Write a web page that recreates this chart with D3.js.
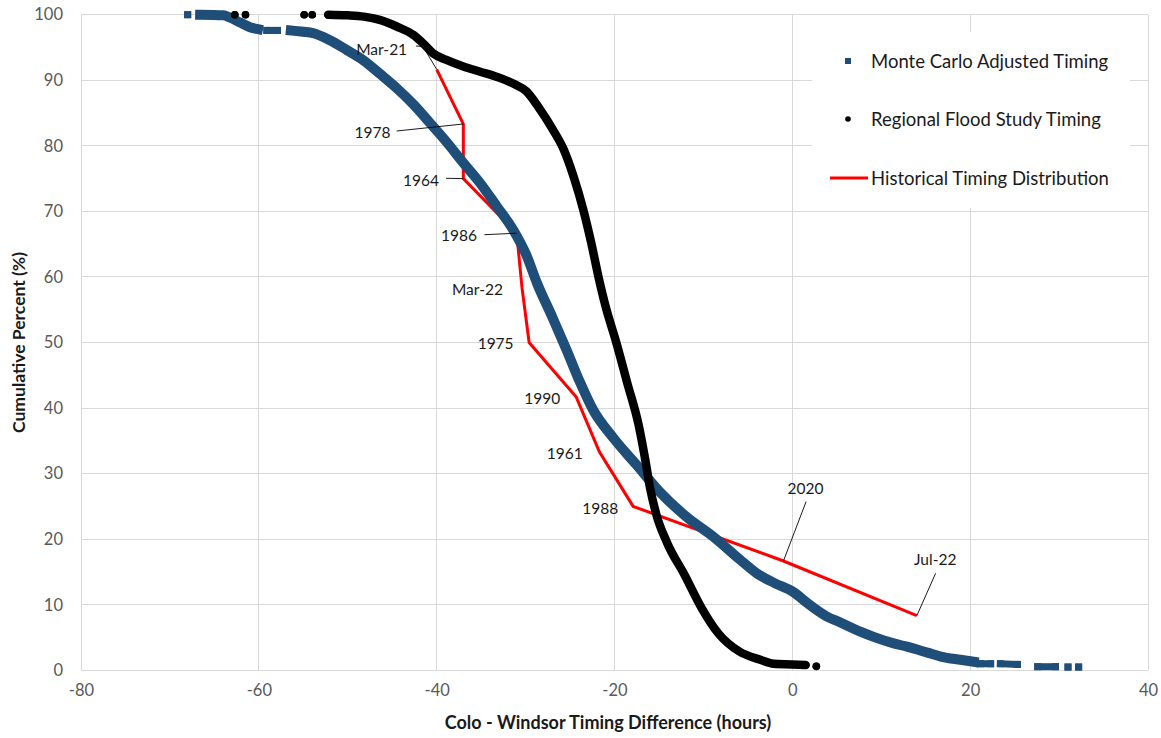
<!DOCTYPE html>
<html>
<head>
<meta charset="utf-8">
<script src="https://cdn.jsdelivr.net/npm/d3@7"></script>
<style>
  html, body { margin: 0; padding: 0; background: #fff; }
  svg { display: block; font-family: Lato, "Open Sans", "Liberation Sans", sans-serif; }
</style>
</head>
<body>
<svg id="chart" width="1161" height="738"></svg>
<script>
// ---- Data -----------------------------------------------------------------
// Monte Carlo adjusted timing: runs of [hours, cumulative %]; separate runs
// are visually separate clusters of markers.
const monteCarloRuns = [
  [[-68.0, 100]],
  [[-66.6, 100], [-64.0, 99.9], [-63.3, 99.6], [-62.1, 98.8], [-61.0, 98.1], [-60.1, 97.8]],
  [[-59.1, 97.6], [-58.7, 97.6]],
  [[-57.9, 97.6]],
  [[-56.4, 97.6], [-55.0, 97.4], [-53.9, 97.2], [-52.0, 96.1], [-50.1, 94.6], [-48.2, 93.0],
   [-46.4, 91.0], [-44.5, 88.8], [-42.6, 86.3], [-40.7, 83.4],
   [-38.9, 80.6], [-37.0, 77.4], [-35.1, 74.3], [-33.2, 70.7], [-31.4, 67.2], [-29.9, 63.3],
   [-28.7, 59.0], [-27.0, 53.9], [-25.4, 48.9], [-23.9, 44.0], [-22.4, 39.7], [-20.1, 35.4],
   [-17.5, 31.3], [-14.9, 27.2], [-11.9, 23.4], [-8.9, 20.4], [-5.9, 16.9], [-4.0, 14.8],
   [-2.0, 13.3], [0.15, 11.9], [1.65, 10.3], [3.9, 8.2], [5.4, 7.3], [7.65, 5.9], [9.15, 5.1], [11.4, 4.1],
   [12.9, 3.6], [15.2, 2.7], [16.7, 2.1], [18.9, 1.6], [20.4, 1.3]],
  [[21.2, 1.0], [22.3, 1.0]],
  [[23.4, 1.0], [25.3, 0.9]],
  [[27.6, 0.55], [29.6, 0.55]],
  [[31.0, 0.5]],
  [[32.2, 0.5]]
];

// Regional flood study timing: runs of [hours, cumulative %].
const regionalRuns = [
  [[-62.7, 100]],
  [[-61.5, 100]],
  [[-54.9, 100]],
  [[-54.0, 100]],
  [[-52.2, 100], [-50.0, 99.9], [-48.2, 99.7], [-46.4, 99.2], [-44.5, 98.2], [-42.6, 96.9],
   [-41.5, 95.6], [-40.4, 94.1], [-38.9, 93.1], [-37.0, 92.1], [-35.1, 91.3], [-33.2, 90.5],
   [-31.4, 89.5], [-29.9, 88.3], [-28.6, 86.0], [-26.9, 82.4], [-25.7, 79.4], [-24.6, 75.3],
   [-23.5, 70.2], [-22.6, 65.1], [-21.8, 60.0], [-21.0, 55.5], [-19.8, 50.0], [-18.6, 44.0],
   [-17.3, 37.5], [-16.5, 31.8], [-16.0, 27.8], [-15.3, 23.8], [-14.1, 19.5], [-12.1, 14.5],
   [-10.2, 9.5], [-8.3, 5.6], [-6.0, 2.9], [-3.6, 1.6], [-2.1, 1.0], [0.0, 0.9], [1.5, 0.8]],
  [[2.7, 0.6]]
];

// Historical timing distribution (plotting positions i/(n+1)).
const histLabels = ["Mar-21", "1978", "1964", "1986", "Mar-22", "1975", "1990", "1961", "1988", "2020", "Jul-22"];
const histHours  = [-40.0, -37.0, -37.0, -31.0, -30.4, -29.6, -24.3, -21.7, -17.9, -1.0, 14.0];
const histPct    = [91.67, 83.33, 75.0, 66.67, 58.33, 50.0, 41.67, 33.33, 25.0, 16.67, 8.33];

// Axis ticks
const xTicks = [-80, -60, -40, -20, 0, 20, 40];
const yTicks = [0, 10, 20, 30, 40, 50, 60, 70, 80, 90, 100];

const legendNames = ["Monte Carlo Adjusted Timing", "Regional Flood Study Timing", "Historical Timing Distribution"];

// ---- Layout ---------------------------------------------------------------
// Label placement relative to its point (px): [dx, dy] for text centre,
// and optional leader-line start (and elbow) offsets.
const labelPlacement = [
  { text: [-55, -20],  leader: [[-20.7, -23.3], [-13.7, -22.8]] },
  { text: [-90.8, 7.7], leader: [[-66.6, 7]] },
  { text: [-42.3, 1.4], leader: [[-17.3, -0.3]] },
  { text: [-57.6, 1.8], leader: [[-32.3, 1.5]] },
  { text: [-44.6, 1.3] },
  { text: [-33.5, 0.8] },
  { text: [-34.1, 1.2] },
  { text: [-34.7, 0.9] },
  { text: [-33, 1.3] },
  { text: [22.1, -72.7], leader: [[22.6, -59.3]] },
  { text: [18.4, -56.5], leader: [[18.8, -42.4]] }
];

const plot = { left: 81, right: 1148, top: 14.7, bottom: 670.3 };
const BLUE = "#1F4E79", RED = "#FF0000", GRID = "#D9D9D9", TICK = "#595959";

const svg = d3.select("#chart");
const x = d3.scaleLinear().domain([-80, 40]).range([plot.left, plot.right]);
const y = d3.scaleLinear().domain([0, 100]).range([plot.bottom, plot.top]);

// ---- Grid -----------------------------------------------------------------
const grid = svg.append("g");
grid.selectAll("line.v").data(xTicks).join("line")
  .attr("x1", d => x(d)).attr("x2", d => x(d))
  .attr("y1", plot.top).attr("y2", plot.bottom)
  .attr("stroke", GRID).attr("stroke-width", 1).attr("shape-rendering", "crispEdges");
grid.selectAll("line.h").data(yTicks).join("line")
  .attr("x1", plot.left).attr("x2", plot.right)
  .attr("y1", d => y(d)).attr("y2", d => y(d))
  .attr("stroke", GRID).attr("stroke-width", 1).attr("shape-rendering", "crispEdges");

// ---- Axes -----------------------------------------------------------------
const xAxis = svg.append("g")
  .attr("transform", `translate(0,${plot.bottom})`)
  .call(d3.axisBottom(x).tickValues(xTicks).tickSize(0).tickPadding(14).tickFormat(d3.format("d")));
const yAxis = svg.append("g")
  .attr("transform", `translate(${plot.left},0)`)
  .call(d3.axisLeft(y).tickValues(yTicks).tickSize(0).tickPadding(18).tickFormat(d3.format("d")));
[xAxis, yAxis].forEach(a => {
  a.select(".domain").remove();
  a.selectAll("text").attr("fill", TICK).style("font-size", "16.5px")
    .style("font-family", "Lato, 'Open Sans', sans-serif");
});
xAxis.selectAll("text").text(d => d < 0 ? "-" + Math.abs(d) : d);

svg.append("text")
  .attr("x", 608).attr("y", 729)
  .attr("text-anchor", "middle")
  .style("font-size", "18px").style("font-weight", "bold").attr("fill", "#1a1a1a")
  .text("Colo - Windsor Timing Difference (hours)");
svg.append("text")
  .attr("transform", `translate(25,${(plot.top + plot.bottom) / 2}) rotate(-90)`)
  .attr("text-anchor", "middle")
  .style("font-size", "17.5px").style("font-weight", "bold").attr("fill", "#1a1a1a")
  .text("Cumulative Percent (%)");

// ---- Series ---------------------------------------------------------------
const line = d3.line().x(d => x(d[0])).y(d => y(d[1]));
const smooth = d3.line().x(d => x(d[0])).y(d => y(d[1])).curve(d3.curveMonotoneX);

// Historical distribution (red line)
const histPts = histHours.map((h, i) => [h, histPct[i]]);
svg.append("path").datum(histPts)
  .attr("d", line).attr("fill", "none")
  .attr("stroke", RED).attr("stroke-width", 3).attr("stroke-linejoin", "miter");

// Monte Carlo (dense blue square markers)
const mc = svg.append("g");
mc.selectAll("path").data(monteCarloRuns.filter(r => r.length > 1)).join("path")
  .attr("d", smooth).attr("fill", "none").attr("stroke", BLUE)
  .attr("stroke-width", r => r.length > 4 ? 10 : 7)
  .attr("stroke-linejoin", "round").attr("stroke-linecap", "square");
mc.selectAll("rect").data(monteCarloRuns.flatMap(r => [r[0], r[r.length - 1]])).join("rect")
  .attr("x", d => x(d[0]) - 3.5).attr("y", d => y(d[1]) - 3.5)
  .attr("width", 7).attr("height", 7).attr("fill", BLUE);

// Regional flood study (dense black dot markers)
const rf = svg.append("g");
rf.selectAll("path").data(regionalRuns.filter(r => r.length > 1)).join("path")
  .attr("d", smooth).attr("fill", "none").attr("stroke", "#000")
  .attr("stroke-width", 8.5).attr("stroke-linejoin", "round").attr("stroke-linecap", "round");
rf.selectAll("circle").data(regionalRuns.flatMap(r => [r[0], r[r.length - 1]])).join("circle")
  .attr("cx", d => x(d[0])).attr("cy", d => y(d[1])).attr("r", 3.8).attr("fill", "#000");

// ---- Point labels -----------------------------------------------------------
const labels = svg.append("g");
histPts.forEach((p, i) => {
  const px = x(p[0]), py = y(p[1]);
  const pl = labelPlacement[i];
  if (pl.leader) {
    const pts = pl.leader.map(o => [px + o[0], py + o[1]]).concat([[px, py]]);
    labels.append("path").attr("d", d3.line()(pts))
      .attr("fill", "none").attr("stroke", "#000").attr("stroke-width", 0.9);
  }
  labels.append("text")
    .attr("x", px + pl.text[0]).attr("y", py + pl.text[1])
    .attr("text-anchor", "middle").attr("dominant-baseline", "central")
    .style("font-size", "15.5px").attr("fill", "#1a1a1a")
    .text(histLabels[i]);
});

// ---- Legend -----------------------------------------------------------------
const legend = svg.append("g");
legend.append("rect").attr("x", 812).attr("y", 32).attr("width", 318).attr("height", 176).attr("fill", "#fff");
const rowsY = [61, 119, 178];
legend.append("rect").attr("x", 845).attr("y", rowsY[0] - 3).attr("width", 6).attr("height", 6).attr("fill", BLUE);
legend.append("circle").attr("cx", 848).attr("cy", rowsY[1]).attr("r", 2.8).attr("fill", "#000");
legend.append("line").attr("x1", 830).attr("x2", 868).attr("y1", rowsY[2]).attr("y2", rowsY[2])
  .attr("stroke", RED).attr("stroke-width", 3);
legend.selectAll("text").data(legendNames).join("text")
  .attr("x", 871).attr("y", (d, i) => rowsY[i])
  .attr("dominant-baseline", "central")
  .style("font-size", "18.5px").attr("fill", "#1a1a1a")
  .text(d => d);
</script>
</body>
</html>
